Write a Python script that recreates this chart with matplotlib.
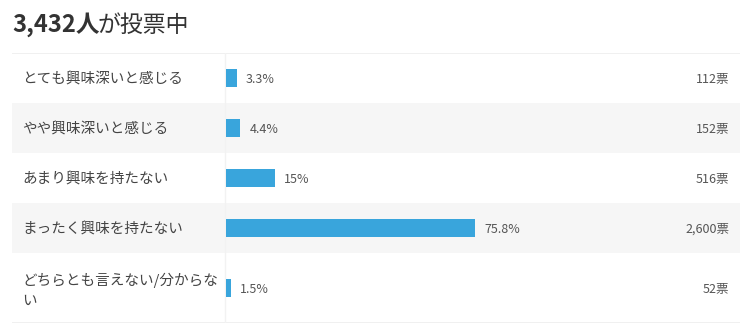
import numpy as np
import matplotlib
matplotlib.use('Agg')
import matplotlib.pyplot as plt

plt.rcParams['font.family'] = ['Noto Sans CJK JP', 'DejaVu Sans']

# data
labels = ['とても興味深いと感じる', 'やや興味深いと感じる', 'あまり興味を持たない',
          'まったく興味を持たない', 'どちらとも言えない/分からな\nい']
percents = [3.3, 4.4, 15, 75.8, 1.5]
pct_labels = ['3.3%', '4.4%', '15%', '75.8%', '1.5%']
votes = ['112票', '152票', '516票', '2,600票', '52票']
total = '3,432'

# layout (pixels)
W, H = 750, 336
row_h = [50, 50, 50, 50, 70]
edges = np.concatenate([[0], np.cumsum(row_h)])
centers = (edges[:-1] + edges[1:]) / 2
top_px = 53
table_h = edges[-1]
left_px, right_px = 12, 740
bar_x0, bar_x100 = 226, 555

fig = plt.figure(figsize=(W / 100, H / 100), dpi=100)
fig.patch.set_facecolor('white')

# title
t1 = fig.text(12 / W, 1 - 25 / H, total + '人', fontsize=17, fontweight='bold',
              color='#333333', va='center', ha='left')
fig.canvas.draw()
bb = t1.get_window_extent()
fig.text((bb.x1 - 2) / W, 1 - 25 / H, 'が投票中', fontsize=16.5, color='#333333',
         va='center', ha='left')

# background table axes
ax_bg = fig.add_axes([left_px / W, 1 - (top_px + table_h) / H,
                      (right_px - left_px) / W, table_h / H])
ax_bg.set_xlim(left_px, right_px)
ax_bg.set_ylim(table_h, 0)
ax_bg.axis('off')
for i in range(len(labels)):
    if i % 2 == 1:
        ax_bg.axhspan(edges[i], edges[i + 1], color='#f6f6f6', lw=0)
ax_bg.axhline(0, color='#eeeeee', lw=1.2)
ax_bg.axhline(table_h, color='#eeeeee', lw=1.2)
ax_bg.axvline(225, color='#f2f2f2', lw=1)

for i, lab in enumerate(labels):
    ax_bg.text(22, centers[i] + 2, lab, fontsize=10.5, color='#444444',
               va='center', ha='left', linespacing=1.55)
    ax_bg.text(729, centers[i] + 1, votes[i], fontsize=9, color='#555555',
               va='center', ha='right')

# bars axes
ax = fig.add_axes([bar_x0 / W, 1 - (top_px + table_h) / H,
                   (bar_x100 - bar_x0) / W, table_h / H])
ax.set_xlim(0, 100)
ax.set_ylim(table_h, 0)
ax.axis('off')
ax.barh(centers, percents, height=18, color='#39a5dc', left=0)
for c, p, t in zip(centers, percents, pct_labels):
    ax.annotate(t, (p, c), xytext=(6.5, -1), textcoords='offset points',
                fontsize=9, color='#555555', va='center', ha='left',
                annotation_clip=False)

fig.savefig('out.png', dpi=100)
